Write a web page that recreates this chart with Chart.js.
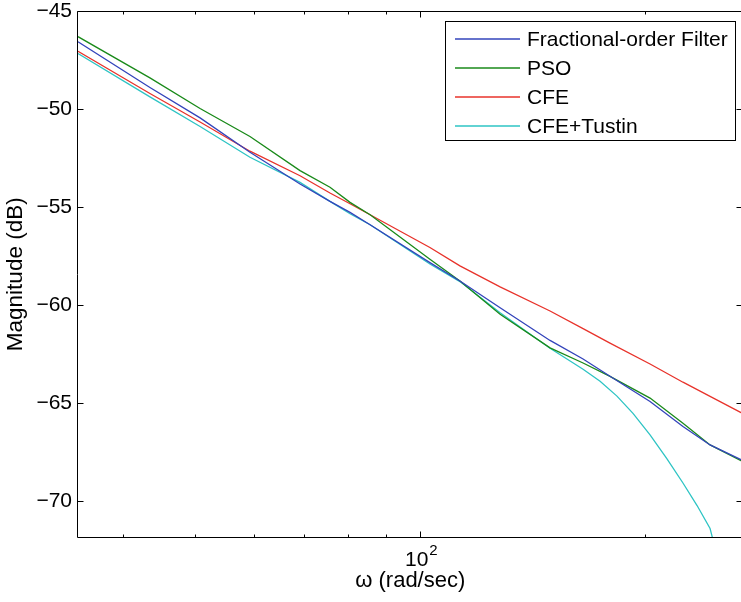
<!DOCTYPE html>
<html>
<head>
<meta charset="utf-8">
<title>Magnitude response</title>
<script src="https://cdn.jsdelivr.net/npm/chart.js@4.4.0/dist/chart.umd.min.js"></script>
<style>
  html, body { margin: 0; padding: 0; background: #fff; overflow: hidden; }
  #wrap { width: 744px; height: 602px; }
</style>
</head>
<body>
<div id="wrap"><canvas id="c" width="744" height="602"></canvas></div>
<script>
// Frequency samples (rad/sec) and magnitudes (dB)
const omega = [34.85, 43.5, 50.77, 59.21, 69.09, 75.77, 80.6, 85.74, 103.1, 113.1, 128.0, 149.3, 165.3, 179.6, 203.2, 224.9, 244.5, 270.2];
const fractionalOrder = [-46.57, -48.9, -50.45, -52.2, -53.82, -54.71, -55.27, -55.9, -57.83, -58.77, -60.13, -61.8, -62.75, -63.63, -64.91, -66.19, -67.13, -67.92];
const pso = [-46.31, -48.41, -49.97, -51.4, -53.14, -53.99, -54.76, -55.39, -57.66, -58.77, -60.47, -62.18, -62.95, -63.63, -64.74, -66.02, -67.13, -67.97];
const cfe = [-47.05, -49.21, -50.66, -52.15, -53.4, -54.28, -54.83, -55.39, -57.06, -58.0, -59.07, -60.3, -61.2, -61.94, -63.0, -63.93, -64.65, -65.52];
const omegaTustin = [34.85, 43.5, 50.77, 59.21, 69.09, 75.77, 80.6, 85.74, 103.1, 113.1, 128.0, 149.3, 165.3, 174.2, 183.5, 192.8, 203.2, 214.1, 224.9, 234.9, 244.5, 246.7];
const cfeTustin = [-47.17, -49.38, -50.89, -52.46, -53.74, -54.71, -55.34, -55.9, -57.9, -58.8, -60.39, -62.2, -63.27, -63.88, -64.64, -65.52, -66.62, -67.84, -69.07, -70.22, -71.39, -71.97];

const seriesNames = ['Fractional-order Filter', 'PSO', 'CFE', 'CFE+Tustin'];
const seriesColors = ['#3344bb', '#1a8a1a', '#e8332b', '#2ec4c4'];

// Axis ticks
const yTicks = [-70, -65, -60, -55, -50, -45];
const xMajorTicks = [100];
const xMinorTicks = [40, 50, 60, 70, 80, 90, 200];
const xRange = [34.85, 270.2];
const yRange = [-71.85, -45];

const FONT = '"Liberation Sans", Arial, Helvetica, sans-serif';

function points(xs, ys) {
  return xs.map((x, i) => ({ x: x, y: ys[i] }));
}

const seriesData = [
  points(omega, fractionalOrder),
  points(omega, pso),
  points(omega, cfe),
  points(omegaTustin, cfeTustin)
];

// Boxed axes with inward ticks, decade label and an in-plot legend
const matlabAxes = {
  id: 'matlabAxes',
  afterDraw(chart) {
    const ctx = chart.ctx;
    const { left, top, right, bottom } = chart.chartArea;
    const xs = chart.scales.x, ys = chart.scales.y;
    const L = Math.round(left) - 0.5, R = Math.round(right) - 0.5;
    const T = Math.round(top) + 0.5, B = Math.round(bottom) - 0.5;
    ctx.save();
    ctx.strokeStyle = '#000';
    ctx.lineWidth = 1;
    ctx.beginPath();
    ctx.rect(L, T, R - L, B - T);
    ctx.stroke();

    ctx.beginPath();
    yTicks.forEach(v => {
      const p = Math.round(ys.getPixelForValue(v)) + 0.5;
      ctx.moveTo(L, p); ctx.lineTo(L + 6, p);
      ctx.moveTo(R, p); ctx.lineTo(R - 6, p);
    });
    xMajorTicks.forEach(v => {
      const p = Math.round(xs.getPixelForValue(v)) + 0.5;
      ctx.moveTo(p, B); ctx.lineTo(p, B - 6);
      ctx.moveTo(p, T); ctx.lineTo(p, T + 6);
    });
    xMinorTicks.forEach(v => {
      const p = Math.round(xs.getPixelForValue(v)) + 0.5;
      ctx.moveTo(p, B); ctx.lineTo(p, B - 3);
      ctx.moveTo(p, T); ctx.lineTo(p, T + 3);
    });
    ctx.stroke();

    // decade labels: 10 with a raised exponent
    ctx.fillStyle = '#000';
    ctx.textBaseline = 'alphabetic';
    ctx.textAlign = 'left';
    xMajorTicks.forEach(v => {
      const p = xs.getPixelForValue(v);
      const exp = String(Math.round(Math.log10(v)));
      ctx.font = '21px ' + FONT;
      const wBase = ctx.measureText('10').width;
      ctx.fillText('10', p - 15, B + 28);
      ctx.font = '15px ' + FONT;
      ctx.fillText(exp, p - 15 + wBase + 1, B + 17);
    });

    // legend
    const bx = 445.5, by = 21.5, bw = 290, bh = 119;
    ctx.fillStyle = '#fff';
    ctx.fillRect(bx, by, bw, bh);
    ctx.strokeStyle = '#000';
    ctx.strokeRect(bx, by, bw, bh);
    ctx.font = '21px ' + FONT;
    ctx.textBaseline = 'middle';
    chart.data.datasets.forEach((ds, i) => {
      const yy = 39 + i * 29;
      ctx.strokeStyle = ds.borderColor;
      ctx.lineWidth = 1.3;
      ctx.beginPath();
      ctx.moveTo(455, yy); ctx.lineTo(520, yy);
      ctx.stroke();
      ctx.fillStyle = '#000';
      ctx.fillText(ds.label, 527, yy + 1);
    });
    ctx.restore();
  }
};

new Chart(document.getElementById('c'), {
  type: 'line',
  data: {
    datasets: seriesNames.map((name, i) => ({
      label: name,
      data: seriesData[i],
      borderColor: seriesColors[i],
      backgroundColor: seriesColors[i],
      borderWidth: 1.3,
      pointRadius: 0,
      tension: 0,
      fill: false
    }))
  },
  options: {
    responsive: false,
    animation: false,
    devicePixelRatio: 1,
    layout: { padding: { left: 0, right: 1.5, top: 11, bottom: 0 } },
    plugins: { legend: { display: false }, tooltip: { enabled: false } },
    scales: {
      x: {
        type: 'logarithmic',
        min: xRange[0],
        max: xRange[1],
        grid: { display: false, drawTicks: false },
        border: { display: false },
        ticks: { display: false },
        title: {
          display: true,
          text: 'ω (rad/sec)',
          color: '#000',
          font: { family: FONT, size: 22 },
          padding: { top: 0, bottom: 8 }
        },
        afterFit(s) {
          s.height = 64.5;
          s.paddingLeft = 0; s.paddingRight = 0;
        }
      },
      y: {
        type: 'linear',
        min: yRange[0],
        max: yRange[1],
        afterBuildTicks(s) { s.ticks = yTicks.map(v => ({ value: v })); },
        grid: { display: false, drawTicks: false },
        border: { display: false },
        ticks: {
          color: '#000',
          font: { family: FONT, size: 21 },
          padding: 6,
          callback: v => (v < 0 ? '\u2212' + Math.abs(v) : String(v))
        },
        title: {
          display: true,
          text: 'Magnitude (dB)',
          color: '#000',
          font: { family: FONT, size: 22.5 },
          padding: { top: 2, bottom: 0 }
        },
        afterFit(s) {
          s.width = 78;
          s.paddingTop = 0; s.paddingBottom = 0;
        }
      }
    }
  },
  plugins: [matlabAxes]
});
</script>
</body>
</html>
